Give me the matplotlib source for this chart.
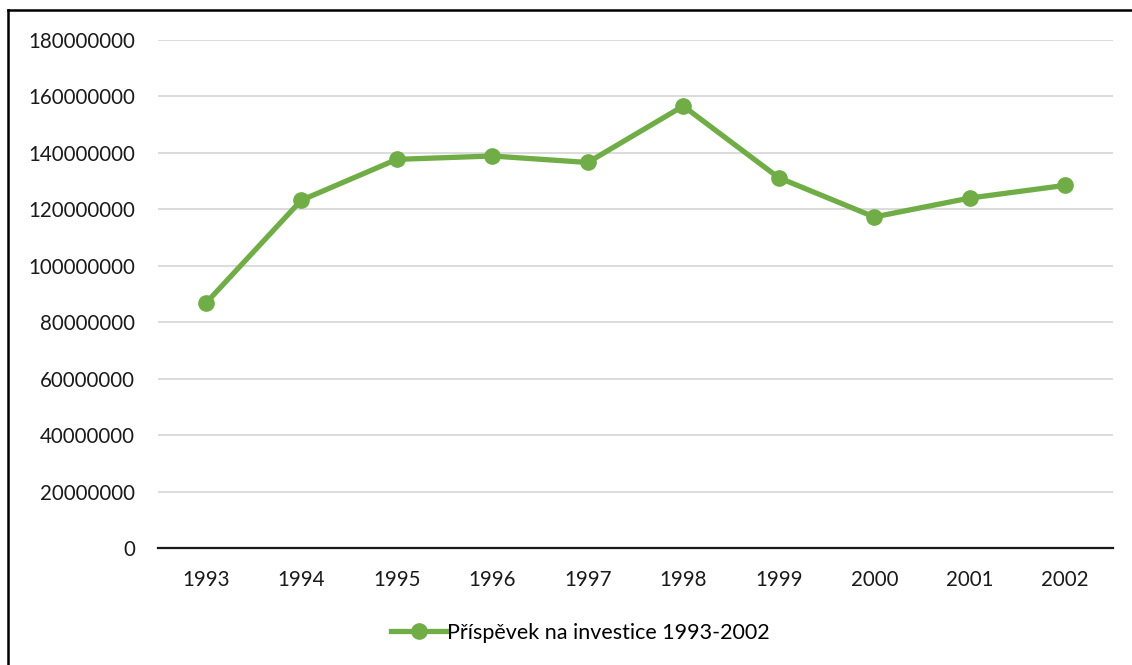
import matplotlib.pyplot as plt
from matplotlib.lines import Line2D

# data
years = ["1993", "1994", "1995", "1996", "1997", "1998", "1999", "2000", "2001", "2002"]
prispevek = [86.7e6, 123.2e6, 137.7e6, 138.9e6, 136.6e6, 156.6e6, 131.2e6, 117.3e6, 124.0e6, 128.5e6]
yticks = list(range(0, 180000001, 20000000))

green = "#70AD47"
plt.rcParams["font.family"] = ["Lato", "DejaVu Sans"]

fig = plt.figure(figsize=(11.32, 6.65), dpi=100)
ax = fig.add_axes([158 / 1132, 1 - 548 / 665, 955 / 1132, 508 / 665])

x = range(len(years))
ax.plot(x, prispevek, color=green, lw=3.8, marker="o", markersize=11,
        solid_joinstyle="round", label="Příspěvek na investice 1993-2002", zorder=3)

ax.set_xlim(-0.5, len(years) - 0.5)
ax.set_ylim(0, 180000000)
ax.set_xticks(list(x))
ax.set_xticklabels(years)
ax.set_yticks(yticks)
ax.set_yticklabels([str(v) for v in yticks])
ax.tick_params(axis="both", length=0, labelsize=14.8, colors="#1a1a1a")
ax.tick_params(axis="y", pad=16.5)
ax.tick_params(axis="x", pad=16)

ax.grid(axis="y", color="#D9D9D9", lw=1.3)
ax.set_axisbelow(True)
for side in ["top", "right", "left"]:
    ax.spines[side].set_visible(False)
ax.spines["bottom"].set_color("#1a1a1a")
ax.spines["bottom"].set_linewidth(1.6)
ax.spines["bottom"].set_zorder(2)

fig.legend(loc="center", bbox_to_anchor=(580 / 1132, 1 - 633 / 665), frameon=False,
           fontsize=15.5, handlelength=2.6, handletextpad=0.0)

# frame of the chart area (only left and top edges are inside the image)
fig.add_artist(Line2D([8 / 1132, 8 / 1132], [0, 1 - 10 / 665], color="black", lw=1.8))
fig.add_artist(Line2D([8 / 1132, 1], [1 - 10 / 665, 1 - 10 / 665], color="black", lw=1.8))

fig.savefig("out.png", dpi=100)
